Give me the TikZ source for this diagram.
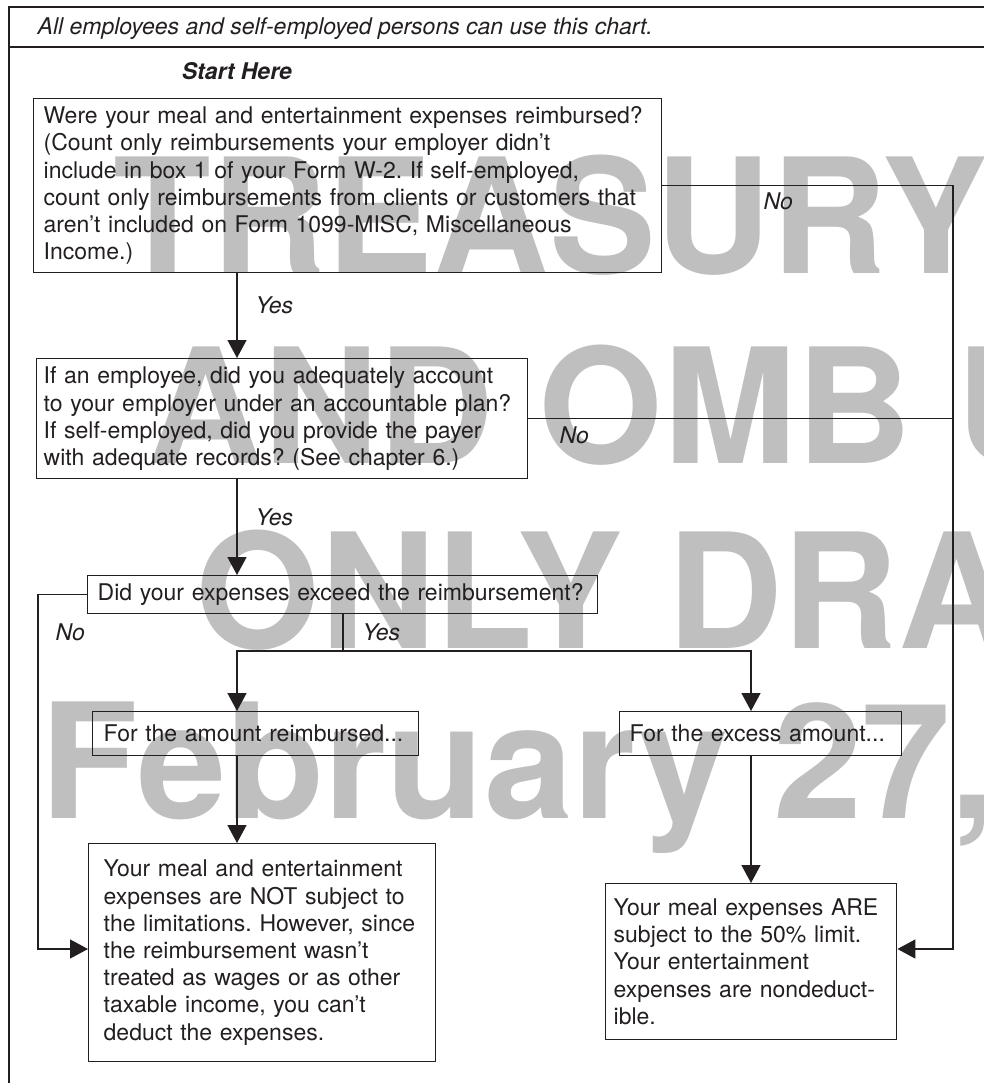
\documentclass[tikz,border=0pt]{standalone}
\usepackage{fontspec}
\setmainfont{TeX Gyre Heros}
\usetikzlibrary{arrows.meta,positioning}
\definecolor{ink}{HTML}{231F20}
\definecolor{wmark}{gray}{0.75}
\frenchspacing

\begin{document}
\begin{tikzpicture}[x=1pt,y=-1pt,line width=1.4pt,color=ink,
  box/.style={draw,anchor=north west,align=left,inner ysep=0pt,font=\fontsize{23}{27.2}\selectfont},
  lbl/.style={anchor=base west,inner sep=0pt,font=\fontsize{23}{27.2}\selectfont\itshape},
  wm/.style={anchor=base west,inner sep=0pt,text=wmark,font=\fontsize{160}{160}\selectfont\bfseries},
  arr/.style={-{Triangle[width=19pt,length=18pt]}}]
\useasboundingbox (0,0) rectangle (984,1083);

\begin{scope}
\clip (0,0) rectangle (984,1083);
\node[wm] (wm1) at (113,273) {TREASURY};
\node[wm] (wm2) at (147,463) {AND OMB USE};
\node[wm] (wm3) at (195,648) {ONLY DRAFT};
\node[wm] (wm4) at (40,818) {February 27,};
\end{scope}

\draw (9,1083) -- (9,7) -- (984,7);
\draw (9,47) -- (984,47);

\node[lbl] (head) at (37,35) {All employees and self-employed persons can use this chart.};
\node[lbl,anchor=base,font=\fontsize{23}{27.2}\selectfont\bfseries\itshape] (start) at (237,80) {Start Here};

\coordinate (colL) at (237,0);
\coordinate (colR) at (751,0);
\coordinate (split) at (343,651);
\coordinate (lturn) at (38,949);
\coordinate (rturn) at (953,949);

\node[box,text width=608pt,inner xsep=10pt,minimum height=174pt] (reimb) at (33,98) {Were your meal and entertainment expenses reimbursed?\\(Count only reimbursements your employer didn’t\\include in box 1 of your Form W-2. If self-employed,\\count only reimbursements from clients or customers that\\aren’t included on Form 1099-MISC, Miscellaneous\\Income.)};
\node[box,text width=477pt,inner xsep=7pt,minimum height=120pt] (account) at (36,358) {If an employee, did you adequately account\\to your employer under an accountable plan?\\If self-employed, did you provide the payer\\with adequate records? (See chapter 6.)};
\node[box,text width=490pt,inner xsep=10pt,minimum height=38pt] (exceed) at (87,575) {Did your expenses exceed the reimbursement?};
\node[box,text width=304pt,inner xsep=11pt,minimum height=44pt] (amount) at (92,711) {For the amount reimbursed...};
\node[box,text width=262pt,inner xsep=10pt,minimum height=44pt] (excess) at (619,711) {For the excess amount...};
\node[box,text width=317pt,inner xsep=15pt,minimum height=218pt] (notsubj) at (88,843) {Your meal and entertainment\\expenses are NOT subject to\\the limitations. However, since\\the reimbursement wasn’t\\treated as wages or as other\\taxable income, you can’t\\deduct the expenses.};
\node[box,text width=275pt,inner xsep=8pt,minimum height=156pt] (halflimit) at (605,883) {Your meal expenses ARE\\subject to the 50\% limit.\\Your entertainment\\expenses are nondeduct-\\ible.};

\draw[arr] (reimb.south -| colL) -- (account.north -| colL);
\draw[arr] (account.south -| colL) -- (exceed.north -| colL);
\draw (exceed.south -| split) -- (split);
\draw[arr] (split) -| (amount.north -| colL);
\draw[arr] (split) -| (excess.north -| colR);
\draw[arr] (amount.south -| colL) -- (notsubj.north -| colL);
\draw[arr] (excess.south -| colR) -- (halflimit.north -| colR);

\draw[arr] (reimb.east) -| (rturn) -- (rturn -| halflimit.east);
\draw (account.east) -- (account.east -| rturn);
\draw[arr] (exceed.west) -| (lturn) -- (lturn -| notsubj.west);

\node[lbl] (yes1) at (255,313) {Yes};
\node[lbl] (yes2) at (255,525) {Yes};
\node[lbl] (yes3) at (362,640) {Yes};
\node[lbl] (no1) at (763,210) {No};
\node[lbl] (no2) at (559,443) {No};
\node[lbl] (no3) at (55,640) {No};
\end{tikzpicture}
\end{document}
